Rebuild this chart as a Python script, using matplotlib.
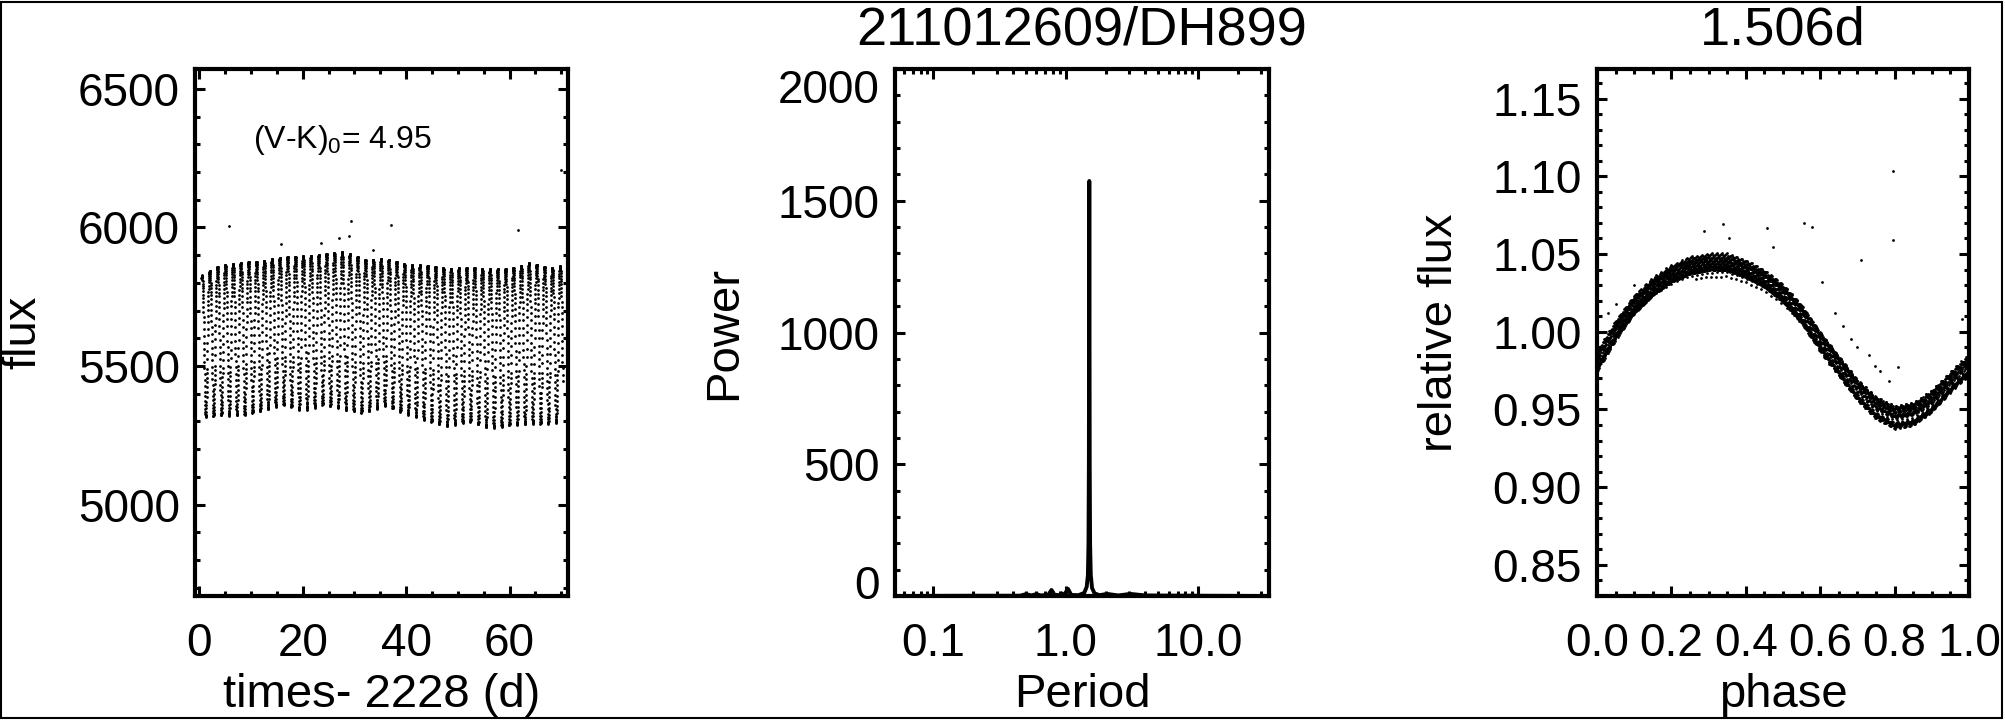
import numpy as np
import matplotlib
matplotlib.use("Agg")
import matplotlib.pyplot as plt
from matplotlib.ticker import (FixedLocator, MultipleLocator, FixedFormatter,
                               LogLocator, NullFormatter, FormatStrFormatter)
from matplotlib.transforms import ScaledTranslation
from matplotlib.patches import Rectangle

plt.rcParams['font.family'] = ['Liberation Sans', 'DejaVu Sans']
plt.rcParams['mathtext.fontset'] = 'custom'
plt.rcParams['mathtext.rm'] = 'Liberation Sans'
plt.rcParams['mathtext.default'] = 'regular'

# ------------------------------------------------------------------ data
star_name = "211012609/DH899"
period_days = 1.506
vk0 = 4.95
t_offset = 2228
flux_norm = 5627.0          # median flux used for relative flux
cadence = 0.0204            # K2 long cadence (d)
t_first, t_last = 0.4, 70.3

# mean phase curve
phase_nodes = [0.00, 0.05, 0.10, 0.15, 0.20, 0.25, 0.30, 0.35, 0.40, 0.45, 0.50,
               0.55, 0.60, 0.65, 0.70, 0.75, 0.80, 0.85, 0.90, 0.95, 1.00]
relflux_nodes = [0.981, 1.000, 1.016, 1.027, 1.035, 1.040, 1.042, 1.042, 1.038, 1.032,
                 1.023, 1.010, 0.993, 0.978, 0.963, 0.952, 0.946, 0.948, 0.956, 0.968, 0.979]
relflux_mid = 0.994

# slow level / amplitude changes read from the light-curve envelope
trend_time = [0, 4, 8, 12, 16, 20, 24, 28, 32, 36, 40, 44, 48, 52, 56, 60, 64, 68, 72]
trend_level = [5600, 5625, 5630, 5640, 5660, 5650, 5665, 5660, 5640, 5655,
               5630, 5615, 5600, 5610, 5595, 5600, 5615, 5605, 5620]
trend_amp = [0.95, 1.00, 1.02, 1.00, 0.98, 1.03, 1.00, 1.05, 1.02, 0.98,
             1.00, 1.04, 1.06, 1.03, 1.07, 1.05, 1.08, 1.04, 1.05]

# isolated high points in the light curve
flare_time = [5.7, 15.8, 23.5, 27.1, 29.0, 29.4, 33.6, 37.0, 61.6, 70.0]
flare_flux = [6005, 5941, 5944, 5962, 5970, 6023, 5919, 6009, 5990, 6207]

# isolated points in the phased curve
flare_phase = [0.288, 0.340, 0.355, 0.458, 0.474, 0.557, 0.577, 0.711, 0.796, 0.796,
               0.605, 0.682, 0.746, 0.784, 0.808, 0.981, 0.640, 0.660, 0.700, 0.730,
               0.760, 0.030, 0.050, 0.100]
flare_relflux = [1.0646, 1.0696, 1.0604, 1.0666, 1.0548, 1.0700, 1.0675, 1.0463, 1.1036, 1.0593,
                 1.032, 0.995, 0.978, 0.968, 0.977, 1.008, 1.012, 1.004, 0.990, 0.985,
                 0.975, 1.012, 1.018, 1.030]

# periodogram
period_grid = [0.0513, 0.2, 0.45, 0.50, 0.55, 0.60, 0.65, 0.74, 0.78, 0.82, 0.90, 0.93, 0.97,
               1.04, 1.10, 1.25, 1.38, 1.44, 1.47, 1.485, 1.495, 1.501, 1.506, 1.511, 1.517,
               1.527, 1.545, 1.58, 1.65, 1.8, 2.05, 2.5, 3.07, 4.0, 10.0, 34.3]
power_grid = [0, 1, 1, 7, 2, 7, 2, 5, 23, 5, 3, 10, 4,
              27, 4, 3, 12, 35, 80, 200, 500, 1100, 1575, 1100, 500,
              200, 80, 30, 10, 3, 8, 2, 8, 2, 1, 0]

time_ticks = [0, 20, 40, 60]
flux_ticks = [5000, 5500, 6000, 6500]
period_ticks = [0.1, 1.0, 10.0]
period_labels = ['0.1', '1.0', '10.0']
power_ticks = [0, 500, 1000, 1500, 2000]
rel_ticks = [0.85, 0.90, 0.95, 1.00, 1.05, 1.10, 1.15]

# ------------------------------------------------------------------ derived light curve
times = np.arange(t_first, t_last, cadence)
phase = (times / period_days) % 1.0
shape = np.interp(phase, phase_nodes, relflux_nodes)
amp = np.interp(times, trend_time, trend_amp)
flux = np.interp(times, trend_time, trend_level) * (relflux_mid + amp * (shape - relflux_mid))
rel = flux / flux_norm

# ------------------------------------------------------------------ figure
W, H = 2005, 720
fig = plt.figure(figsize=(W / 100, H / 100), dpi=100)


def box(x0, x1, y0=69, y1=596):
    return [x0 / W, (H - y1) / H, (x1 - x0) / W, (y1 - y0) / H]


ax1 = fig.add_axes(box(195, 568))
ax2 = fig.add_axes(box(895, 1269))
ax3 = fig.add_axes(box(1597, 1969))

TICK = 33
LAB = 34
TITLE = 39
for ax in (ax1, ax2, ax3):
    for s in ax.spines.values():
        s.set_linewidth(3)
    ax.tick_params(which='both', direction='in', top=True, right=True, width=2.2,
                   labelsize=TICK)
    ax.tick_params(which='major', length=7)
    ax.tick_params(which='minor', length=3.5)
    ax.tick_params(axis='x', pad=18.5)
    ax.tick_params(axis='y', pad=11)

ms = 2.0
# left panel: light curve
ax1.plot(times, flux, ls='none', marker='o', ms=ms, mec='none', mfc='k')
ax1.plot(flare_time, flare_flux, ls='none', marker='o', ms=ms, mec='none', mfc='k')
ax1.set_xlim(-0.85, 71.3)
ax1.set_ylim(4670, 6572)
ax1.xaxis.set_major_locator(FixedLocator(time_ticks))
ax1.xaxis.set_minor_locator(MultipleLocator(5))
ax1.yaxis.set_major_locator(FixedLocator(flux_ticks))
ax1.yaxis.set_minor_locator(MultipleLocator(100))
ax1.set_xlabel(f'times- {t_offset} (d)', fontsize=LAB, va='baseline')
ax1.set_ylabel('flux', fontsize=LAB, va='center')
ax1.text(0.1555, 0.850, f'(V-K)$_0$= {vk0:.2f}', transform=ax1.transAxes,
         fontsize=23, ha='left', va='baseline')

# middle panel: periodogram
ax2.plot(period_grid, power_grid, color='k', lw=2.8)
ax2.set_xscale('log')
ax2.set_xlim(0.0513, 34.3)
ax2.set_ylim(0, 2000)
ax2.xaxis.set_major_locator(FixedLocator(period_ticks))
ax2.xaxis.set_major_formatter(FixedFormatter(period_labels))
ax2.xaxis.set_minor_locator(LogLocator(base=10, subs=np.arange(2, 10)))
ax2.xaxis.set_minor_formatter(NullFormatter())
ax2.yaxis.set_major_locator(FixedLocator(power_ticks))
ax2.yaxis.set_minor_locator(MultipleLocator(100))
ax2.set_xlabel('Period', fontsize=LAB, va='baseline')
ax2.set_ylabel('Power', fontsize=LAB, va='center')
ax2.set_title(star_name, fontsize=TITLE, pad=17.3)

# right panel: phased curve
ax3.plot(phase, rel, ls='none', marker='o', ms=ms, mec='none', mfc='k')
ax3.plot(flare_phase, flare_relflux, ls='none', marker='o', ms=ms, mec='none', mfc='k')
ax3.set_xlim(0, 1)
ax3.set_ylim(0.830, 1.169)
ax3.xaxis.set_major_locator(MultipleLocator(0.2))
ax3.xaxis.set_major_formatter(FormatStrFormatter('%.1f'))
ax3.xaxis.set_minor_locator(MultipleLocator(0.05))
ax3.yaxis.set_major_locator(FixedLocator(rel_ticks))
ax3.yaxis.set_major_formatter(FormatStrFormatter('%.2f'))
ax3.yaxis.set_minor_locator(MultipleLocator(0.01))
ax3.set_xlabel('phase', fontsize=LAB, va='baseline')
ax3.set_ylabel('relative flux', fontsize=LAB, va='center')
ax3.set_title(f'{period_days:.3f}d', fontsize=TITLE, pad=17.3)

# label positions (axes coords)
xlab_y = (596 - 707) / 527
for ax in (ax1, ax2, ax3):
    ax.xaxis.set_label_coords(0.5, xlab_y)
ax1.yaxis.set_label_coords((23 - 195) / 373, 0.5)
ax2.yaxis.set_label_coords((724 - 895) / 374, 0.5)
ax3.yaxis.set_label_coords((1440 - 1597) / 372, 0.5)

# figure frame
fig.add_artist(Rectangle((1 / W, 2 / H), 2001 / W, 716 / H, transform=fig.transFigure,
                         fill=False, lw=1.5, ec='k'))

# end labels of the power axis sit inside the axis range
fig.canvas.draw()
for lab in ax2.yaxis.get_ticklabels():
    if lab.get_text() == '2000':
        lab.set_transform(lab.get_transform() + ScaledTranslation(0, -0.17, fig.dpi_scale_trans))
    elif lab.get_text() == '0':
        lab.set_transform(lab.get_transform() + ScaledTranslation(0, 0.14, fig.dpi_scale_trans))

fig.savefig('out.png', dpi=100)
